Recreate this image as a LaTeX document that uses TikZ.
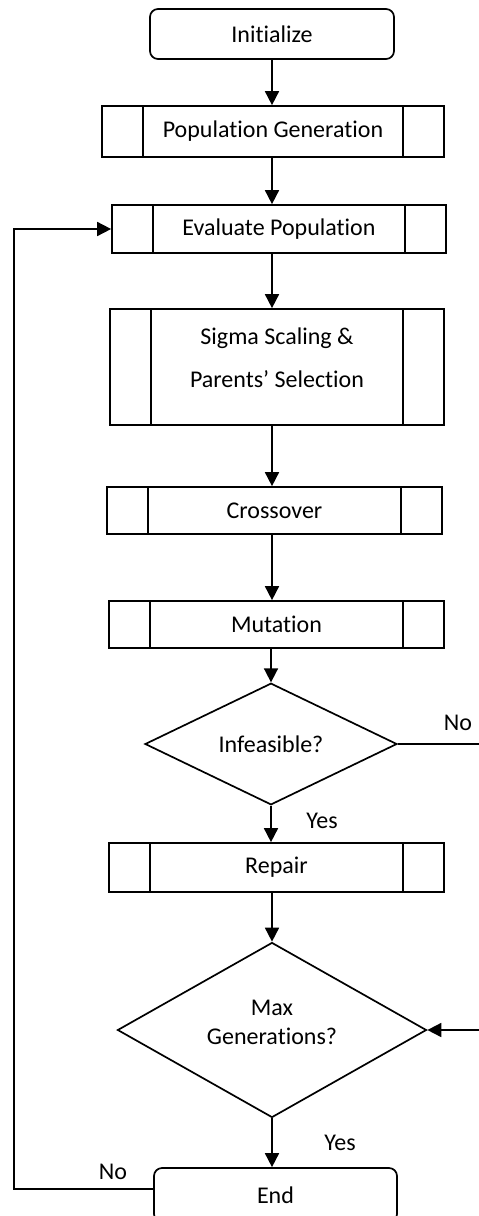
\documentclass[tikz,border=0pt]{standalone}
\usepackage{fontspec}
\setmainfont[Ligatures=NoCommon]{Carlito}
\usetikzlibrary{shapes.geometric,arrows.meta}

\tikzset{
  base/.style={draw, line width=1.7pt, inner sep=0pt,
    font=\fontsize{24}{28}\selectfont},
  txt/.style={inner sep=0pt, font=\fontsize{24}{28}\selectfont},
  term/.style={base, rounded corners=8pt},
  subproc/.style={base,
    path picture={
      \draw[line width=1.7pt]
        ([xshift=41pt]path picture bounding box.north west) --
        ([xshift=41pt]path picture bounding box.south west)
        ([xshift=-41pt]path picture bounding box.north east) --
        ([xshift=-41pt]path picture bounding box.south east);
    }},
  decision/.style={base, diamond},
  flow/.style={line width=1.7pt},
  arr/.style={flow, -{Triangle[length=14pt,width=14pt]}},
}

\begin{document}
\begin{tikzpicture}[x=1pt, y=-1pt]
  \useasboundingbox (0,0) rectangle (479,1216);

  % process steps
  \node[term, minimum width=244pt, minimum height=50pt] (init) at (272,34) {Initialize};
  \node[subproc, minimum width=342pt, minimum height=51pt] (popgen) at (273,131.5) {Population Generation};
  \node[subproc, minimum width=334pt, minimum height=48pt] (eval) at (279,229) {Evaluate Population};
  \node[subproc, minimum width=334pt, minimum height=116pt] (sigma) at (277,367) {};
  \node[txt, align=center, font=\fontsize{24}{43}\selectfont] (sigmatext) at (277,358)
    {Sigma Scaling \&\\Parents’ Selection};
  \node[subproc, minimum width=335pt, minimum height=47pt] (cross) at (274.5,510.5) {Crossover};
  \node[subproc, minimum width=335pt, minimum height=47pt] (mut) at (276.5,624.5) {Mutation};
  \node[decision, minimum width=252pt, minimum height=99pt] (inf) at (271,744) {Infeasible?};
  \node[subproc, minimum width=335pt, minimum height=49pt] (repair) at (276.5,867.5) {Repair};
  \node[decision, minimum width=309pt, minimum height=175pt] (maxgen) at (272,1030) {};
  \node[txt, align=center, font=\fontsize{24}{29}\selectfont] (mgtext) at (272,1022)
    {Max\\Generations?};
  \node[term, minimum width=243pt, minimum height=54pt] (end) at (275.5,1195) {End};

  % branch labels
  \node[txt] (yes1) at (322,821) {Yes};
  \node[txt] (no1) at (458,723) {No};
  \node[txt] (yes2) at (340,1143) {Yes};
  \node[txt] (no2) at (113,1172) {No};

  % main spine
  \draw[arr] (init.south) -- (popgen.north -| init.south);
  \draw[arr] (popgen.south -| init.south) -- (eval.north -| init.south);
  \draw[arr] (eval.south -| init.south) -- (sigma.north -| init.south);
  \draw[arr] (sigma.south -| init.south) -- (cross.north -| init.south);
  \draw[arr] (cross.south -| init.south) -- (mut.north -| init.south);
  \draw[arr] (mut.south -| inf.north) -- (inf.north);
  \draw[arr] (inf.south) -- (repair.north -| inf.south);
  \draw[arr] (repair.south -| maxgen.north) -- (maxgen.north);
  \draw[arr] (maxgen.south) -- (end.north -| maxgen.south);

  % side branches
  \coordinate (noout) at (479,744);
  \draw[flow] (inf.east) -- (noout);
  \coordinate (mgin) at (479,1030);
  \draw[arr] (mgin) -- (maxgen.east);

  % loop back to evaluation
  \coordinate (loopbot) at (14,1189);
  \coordinate (looptop) at (14,229);
  \draw[arr] (end.west |- loopbot) -- (loopbot) -- (looptop) -- (eval.west);
\end{tikzpicture}
\end{document}
